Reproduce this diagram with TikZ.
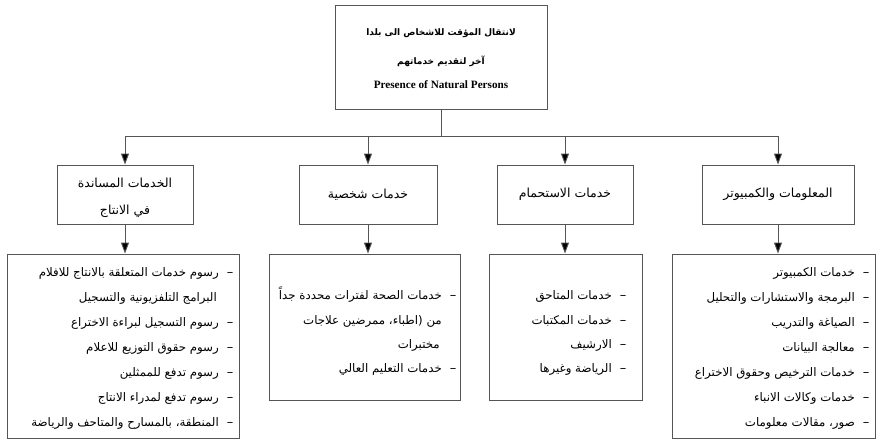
\documentclass[tikz,border=0pt]{standalone}
\usepackage{fontspec}
\usetikzlibrary{arrows.meta}
\TeXXeTstate=1
\newfontfamily\arabicfont[Script=Arabic]{DejaVu Sans}
\newfontfamily\latinserif{Liberation Serif}
\newcommand\artxt[1]{\beginR #1\endR}
\definecolor{framegray}{HTML}{555555}

\tikzset{
  frame/.style={draw=framegray, line width=0.9pt, inner sep=0pt, align=center},
  bus/.style={draw=framegray, line width=0.9pt},
  feed/.style={bus, -{Triangle[length=11pt, width=8pt, fill=black]}},
  headfont/.style={font=\arabicfont\fontsize{12.5}{27}\selectfont},
  listline/.style={anchor=base east, inner sep=0pt, font=\arabicfont\fontsize{11.8}{14}\selectfont},
  dashmark/.style={anchor=base, inner sep=0pt, font=\arabicfont\fontsize{13}{14}\selectfont},
}

\begin{document}
\begin{tikzpicture}[x=1pt, y=-1pt]
\useasboundingbox (0,0) rectangle (878,439);

% top box
\node[frame, minimum width=212pt, minimum height=104pt] (top) at (441,57) {};
\node[inner sep=0pt, font=\arabicfont\bfseries\fontsize{9}{10}\selectfont] (t1) at (441,33) {\artxt{لانتقال المؤقت للاشخاص الى بلدا}};
\node[inner sep=0pt, font=\arabicfont\bfseries\fontsize{9}{10}\selectfont] (t2) at (441,61) {\artxt{آخر لتقديم خدماتهم}};
\node[inner sep=0pt, font=\latinserif\bfseries\fontsize{11.2}{13}\selectfont] (t3) at (441,85) {Presence of Natural Persons};

% category boxes
\node[frame, minimum width=136pt, minimum height=59pt] (c1) at (125,194.5) {};
\node[headfont, inner sep=0pt, align=center] (c1t) at (125,197.5) {\artxt{الخدمات المساندة}\\\artxt{في الانتاج}};
\node[frame, headfont, minimum width=138pt, minimum height=59pt] (c2) at (368,194.5) {\artxt{خدمات شخصية}};
\node[frame, headfont, minimum width=136pt, minimum height=59pt] (c3) at (565,194.5) {\artxt{خدمات الاستحمام}};
\node[frame, headfont, minimum width=152pt, minimum height=59pt] (c4) at (778,194.5) {\artxt{المعلومات والكمبيوتر}};

% detail boxes
\node[frame, minimum width=232pt, minimum height=184pt] (d1) at (123,346) {};
\node[frame, minimum width=191pt, minimum height=146pt] (d2) at (364.5,327) {};
\node[frame, minimum width=153pt, minimum height=146pt] (d3) at (565.5,327) {};
\node[frame, minimum width=203pt, minimum height=184pt] (d4) at (773.5,346) {};

% connectors
\coordinate (hub) at (441,136);
\draw[bus] (top.south) -- (hub);
\foreach \c in {c1,c2,c3,c4} \draw[feed] (hub) -| (\c.north);
\draw[feed] (c1.south) -- (c1.south |- d1.north);
\draw[feed] (c2.south) -- (c2.south |- d2.north);
\draw[feed] (c3.south) -- (c3.south |- d3.north);
\draw[feed] (c4.south) -- (c4.south |- d4.north);

% list of the first detail box
\node[listline] (a1) at (219,276) {\artxt{رسوم خدمات المتعلقة بالانتاج للافلام}};
\node[listline] (a2) at (217,301) {\artxt{البرامج التلفزيونية والتسجيل}};
\node[listline] (a3) at (219,326) {\artxt{رسوم التسجيل لبراءة الاختراع}};
\node[listline] (a4) at (219,351) {\artxt{رسوم حقوق التوزيع للاعلام}};
\node[listline] (a5) at (219,376) {\artxt{رسوم تدفع للممثلين}};
\node[listline] (a6) at (219,401) {\artxt{رسوم تدفع لمدراء الانتاج}};
\node[listline] (a7) at (219,426) {\artxt{المنطقة، بالمسارح والمتاحف والرياضة}};
\foreach \y [count=\i] in {276,326,351,376,401,426}
  \node[dashmark] (ad\i) at (230,\y) {–};

% list of the second detail box
\node[listline] (b1) at (442,299) {\artxt{خدمات الصحة لفترات محددة جداً}};
\node[listline] (b2) at (442,324) {\artxt{من (اطباء، ممرضين علاجات}};
\node[listline] (b3) at (440,348) {\artxt{مختبرات}};
\node[listline] (b4) at (442,372) {\artxt{خدمات التعليم العالي}};
\foreach \y [count=\i] in {299,372}
  \node[dashmark] (bd\i) at (453,\y) {–};

% list of the third detail box
\node[listline] (e1) at (612,299) {\artxt{خدمات المتاحق}};
\node[listline] (e2) at (612,324) {\artxt{خدمات المكتبات}};
\node[listline] (e3) at (612,348) {\artxt{الارشيف}};
\node[listline] (e4) at (612,372) {\artxt{الرياضة وغيرها}};
\foreach \y [count=\i] in {299,324,348,372}
  \node[dashmark] (ed\i) at (623,\y) {–};

% list of the fourth detail box
\node[listline] (f1) at (855,276) {\artxt{خدمات الكمبيوتر}};
\node[listline] (f2) at (855,301) {\artxt{البرمجة والاستشارات والتحليل}};
\node[listline] (f3) at (855,326) {\artxt{الصياغة والتدريب}};
\node[listline] (f4) at (855,351) {\artxt{معالجة البيانات}};
\node[listline] (f5) at (855,376) {\artxt{خدمات الترخيص وحقوق الاختراع}};
\node[listline] (f6) at (855,401) {\artxt{خدمات وكالات الانباء}};
\node[listline] (f7) at (855,426) {\artxt{صور، مقالات معلومات}};
\foreach \y [count=\i] in {276,301,326,351,376,401,426}
  \node[dashmark] (fd\i) at (866,\y) {–};
\end{tikzpicture}
\end{document}
